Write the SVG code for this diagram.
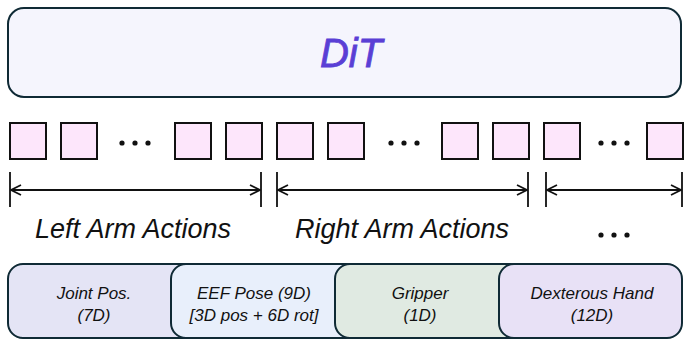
<svg xmlns="http://www.w3.org/2000/svg" width="685" height="339" viewBox="0 0 685 339">
<style>
.box{stroke:#0f2a35;stroke-width:2}
.tok{fill:#fde6fb;stroke:#111;stroke-width:2}
.lbl{font-family:"Liberation Sans",Arial,sans-serif;font-style:italic;fill:#111}
.sm{font-size:17px}
.big{font-size:27px}
.dot{fill:#111}
.ln{stroke:#111;stroke-width:1.8;fill:none}
</style>
<defs>
<marker id="ah" viewBox="0 0 12 12" refX="11" refY="6" markerWidth="12" markerHeight="12" markerUnits="userSpaceOnUse" orient="auto-start-reverse">
<path d="M1,1 L11,6 L1,11" fill="none" stroke="#111" stroke-width="1.8"/>
</marker>
</defs>
<rect width="685" height="339" fill="#fff"/>
<g id="dit">
<rect class="box" x="8" y="8" width="673" height="89" rx="16" fill="#f5f5fd"/>
<text x="351" y="67" text-anchor="middle" font-family="'Liberation Sans',Arial,sans-serif" font-style="italic" font-size="40" fill="#5a3fd5" stroke="#5a3fd5" stroke-width="0.8">DiT</text>
</g>
<g id="tokens">
<rect class="tok" x="10" y="123" width="36" height="36"/>
<rect class="tok" x="61" y="123" width="36" height="36"/>
<circle class="dot" cx="122" cy="143" r="2.6"/><circle class="dot" cx="135" cy="143" r="2.6"/><circle class="dot" cx="148" cy="143" r="2.6"/>
<rect class="tok" x="175" y="123" width="36" height="36"/>
<rect class="tok" x="226" y="123" width="36" height="36"/>
<rect class="tok" x="277" y="123" width="36" height="36"/>
<rect class="tok" x="328" y="123" width="36" height="36"/>
<circle class="dot" cx="391" cy="143" r="2.6"/><circle class="dot" cx="404" cy="143" r="2.6"/><circle class="dot" cx="417" cy="143" r="2.6"/>
<rect class="tok" x="442" y="123" width="36" height="36"/>
<rect class="tok" x="493" y="123" width="36" height="36"/>
<rect class="tok" x="544" y="123" width="36" height="36"/>
<circle class="dot" cx="601" cy="143" r="2.6"/><circle class="dot" cx="614" cy="143" r="2.6"/><circle class="dot" cx="627" cy="143" r="2.6"/>
<rect class="tok" x="647" y="123" width="36" height="36"/>
</g>
<g id="connectors">
<path class="ln" d="M10,172 V207 M261,172 V207 M277,172 V207 M528,172 V207 M546,172 V207 M682,172 V207"/>
<line class="ln" x1="11" y1="190" x2="260" y2="190" marker-start="url(#ah)" marker-end="url(#ah)"/>
<line class="ln" x1="278" y1="190" x2="527" y2="190" marker-start="url(#ah)" marker-end="url(#ah)"/>
<line class="ln" x1="547" y1="190" x2="681" y2="190" marker-start="url(#ah)" marker-end="url(#ah)"/>
</g>
<g id="labels">
<text class="lbl big" x="133" y="238" text-anchor="middle">Left Arm Actions</text>
<text class="lbl big" x="402" y="238" text-anchor="middle">Right Arm Actions</text>
<circle class="dot" cx="601" cy="235" r="2.6"/><circle class="dot" cx="614" cy="235" r="2.6"/><circle class="dot" cx="627" cy="235" r="2.6"/>
</g>
<g id="joint">
<rect class="box" x="8" y="264" width="190" height="74" rx="15" fill="#e4e4f5"/>
<text class="lbl sm" x="94" y="299" text-anchor="middle">Joint Pos.</text>
<text class="lbl sm" x="94" y="321" text-anchor="middle">(7D)</text>
</g>
<g id="eef">
<rect class="box" x="171" y="264" width="190" height="74" rx="15" fill="#e8effb"/>
<text class="lbl sm" x="254" y="299" text-anchor="middle">EEF Pose (9D)</text>
<text class="lbl sm" x="254" y="321" text-anchor="middle">[3D pos + 6D rot]</text>
</g>
<g id="gripper">
<rect class="box" x="335" y="264" width="190" height="74" rx="15" fill="#e0eae2"/>
<text class="lbl sm" x="420" y="299" text-anchor="middle">Gripper</text>
<text class="lbl sm" x="420" y="321" text-anchor="middle">(1D)</text>
</g>
<g id="hand">
<rect class="box" x="499" y="264" width="183" height="74" rx="15" fill="#e8e1f6"/>
<text class="lbl sm" x="592" y="299" text-anchor="middle">Dexterous Hand</text>
<text class="lbl sm" x="592" y="321" text-anchor="middle">(12D)</text>
</g>
</svg>
